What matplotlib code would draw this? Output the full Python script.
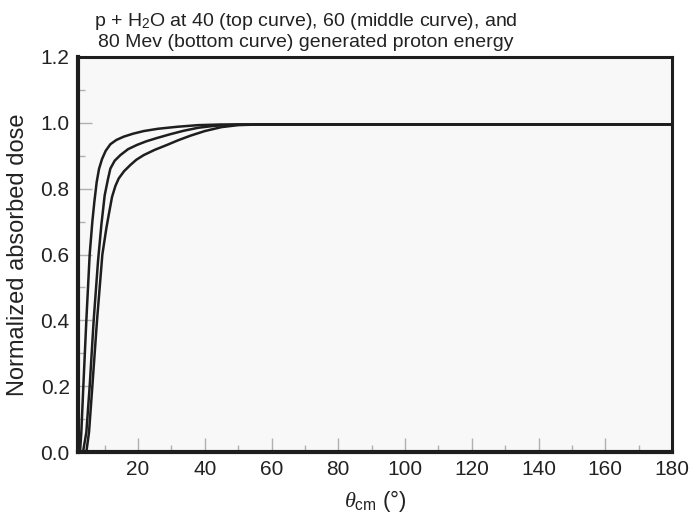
import matplotlib
matplotlib.use("Agg")
import matplotlib.pyplot as plt
from matplotlib.ticker import MultipleLocator

plt.rcParams['font.family'] = ['Liberation Sans', 'DejaVu Sans']
plt.rcParams['mathtext.fontset'] = 'custom'
plt.rcParams['mathtext.rm'] = 'Liberation Sans'
plt.rcParams['mathtext.it'] = 'Liberation Serif:italic'

# 40 MeV (top curve)
x40 = [2.6, 3.0, 3.6, 4.5, 5.5, 6.3, 6.9, 7.6, 8.3, 9.2, 10.3, 11.7, 13.5, 15.7, 18.5,
       21.7, 26.0, 31.7, 38.0, 45.0, 55.0, 70.0, 100.0, 140.0, 180.0]
y40 = [0.0, 0.06, 0.2, 0.4, 0.6, 0.7, 0.76, 0.82, 0.86, 0.89, 0.915, 0.935, 0.948, 0.958, 0.967,
       0.975, 0.982, 0.988, 0.993, 0.995, 0.995, 0.995, 0.995, 0.995, 0.995]
# 60 MeV (middle curve)
x60 = [3.5, 4.5, 5.5, 6.7, 8.0, 9.0, 10.0, 11.0, 11.7, 13.0, 14.7, 17.0, 19.7, 22.5, 25.7,
       29.5, 33.7, 38.0, 43.0, 50.0, 60.0, 100.0, 180.0]
y60 = [0.0, 0.06, 0.2, 0.4, 0.58, 0.69, 0.78, 0.83, 0.861, 0.885, 0.902, 0.92, 0.933, 0.944, 0.954,
       0.965, 0.976, 0.985, 0.991, 0.995, 0.995, 0.995, 0.995]
# 80 MeV (bottom curve)
x80 = [4.5, 5.3, 6.3, 7.7, 9.3, 10.5, 11.2, 12.2, 13.2, 14.2, 15.8, 17.7, 19.5, 21.7, 25.0, 28.7,
       32.0, 35.7, 40.0, 45.0, 50.0, 56.0, 100.0, 180.0]
y80 = [0.0, 0.06, 0.2, 0.4, 0.6, 0.68, 0.72, 0.775, 0.808, 0.831, 0.853, 0.872, 0.888, 0.902, 0.918, 0.933,
       0.947, 0.961, 0.975, 0.987, 0.993, 0.995, 0.995, 0.995]

xticks = [20, 40, 60, 80, 100, 120, 140, 160, 180]
yticks = [0.0, 0.2, 0.4, 0.6, 0.8, 1.0, 1.2]

fig = plt.figure(figsize=(6.95, 5.18), dpi=100)
ax = fig.add_axes([78/695, 1-452/518, (672-78)/695, (452-57)/518])
ax.set_facecolor('#f8f8f8')

for xs, ys in [(x40, y40), (x60, y60), (x80, y80)]:
    ax.plot(xs, ys, color='#1e1e1e', lw=1.8, solid_capstyle='round', solid_joinstyle='round')

ax.set_xlim(2, 180)
ax.set_ylim(0, 1.2)
ax.set_xticks(xticks)
ax.set_yticks(yticks)
ax.set_yticklabels([f"{v:.1f}" for v in yticks])
ax.xaxis.set_minor_locator(MultipleLocator(10))
ax.yaxis.set_minor_locator(MultipleLocator(0.1))
ax.tick_params(which='both', direction='in', color='#b0b0b0', width=1,
               labelsize=15, labelcolor='#222222', top=False, right=False)
ax.tick_params(which='major', length=10, pad=6)
ax.tick_params(which='minor', length=5)

for side in ['left', 'bottom']:
    ax.spines[side].set_linewidth(3.0)
for side in ['top', 'right']:
    ax.spines[side].set_linewidth(2.2)
for s in ax.spines.values():
    s.set_color('#1e1e1e')

ax.set_xlabel(r'$\theta_{\mathrm{cm}}$ (°)', fontsize=16, color='#222222', labelpad=6)
ax.set_ylabel('Normalized absorbed dose', fontsize=17, color='#222222', labelpad=8)

fig.text(306/695, 1-22/518, r'p + H$_2$O at 40 (top curve), 60 (middle curve), and',
         ha='center', va='center', fontsize=14, color='#222222')
fig.text(306/695, 1-42/518, '80 Mev (bottom curve) generated proton energy',
         ha='center', va='center', fontsize=14, color='#222222')

fig.savefig('out.png', dpi=100)
